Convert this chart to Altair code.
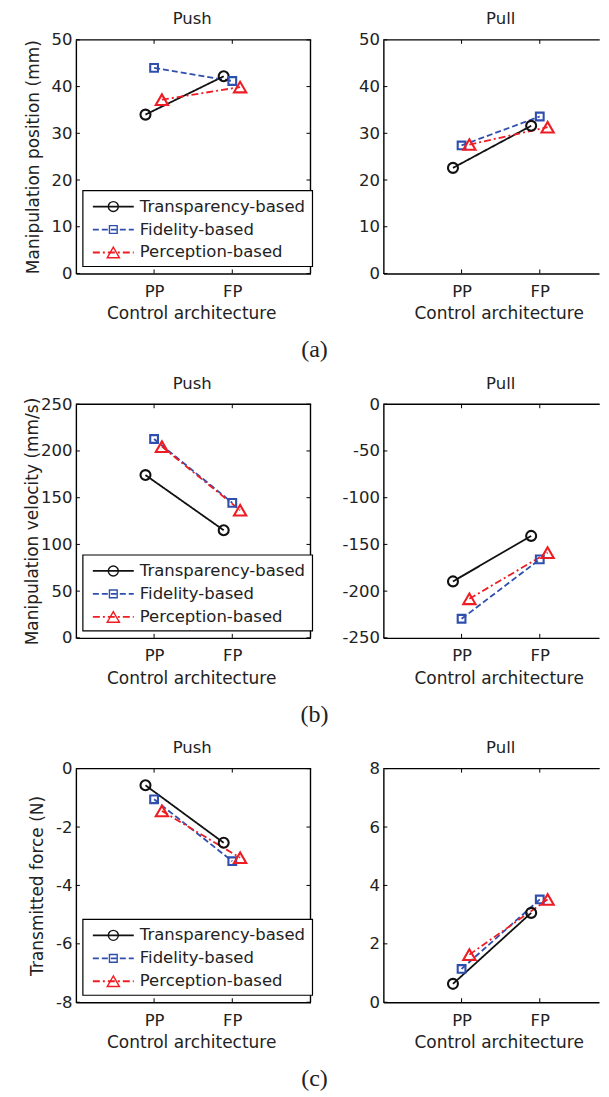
import altair as alt
import pandas as pd

# ---------------- data ----------------
series = ["Transparency-based", "Fidelity-based", "Perception-based"]
archs = ["PP", "FP"]
directions = ["Push", "Pull"]
y_titles = ["Manipulation position (mm)", "Manipulation velocity (mm/s)", "Transmitted force (N)"]
captions = ["(a)", "(b)", "(c)"]

# manipulation position (mm), values at [PP, FP]
pos_push_transparency = [34.0, 42.2]
pos_push_fidelity = [44.0, 41.2]
pos_push_perception = [37.2, 39.9]
pos_pull_transparency = [22.6, 31.6]
pos_pull_fidelity = [27.4, 33.6]
pos_pull_perception = [27.6, 31.3]

# manipulation velocity (mm/s)
vel_push_transparency = [174.2, 115.2]
vel_push_fidelity = [212.8, 144.5]
vel_push_perception = [204.6, 136.6]
vel_pull_transparency = [-189.6, -140.9]
vel_pull_fidelity = [-229.6, -166.0]
vel_pull_perception = [-208.2, -158.8]

# transmitted force (N)
force_push_transparency = [-0.57, -2.54]
force_push_fidelity = [-1.05, -3.17]
force_push_perception = [-1.45, -3.05]
force_pull_transparency = [0.63, 3.06]
force_pull_fidelity = [1.14, 3.52]
force_pull_perception = [1.63, 3.52]

# y tick labels
pos_ticks_push = [0, 10, 20, 30, 40, 50]
pos_ticks_pull = [0, 10, 20, 30, 40, 50]
vel_ticks_push = [0, 50, 100, 150, 200, 250]
vel_ticks_pull = [-250, -200, -150, -100, -50, 0]
force_ticks_push = [-8, -6, -4, -2, 0]
force_ticks_pull = [0, 2, 4, 6, 8]

# ---------------- style ----------------
FONT = "DejaVu Sans"
TXT = "#222222"
colors = ["#111111", "#2f4fae", "#ee1d23"]
dashes = [[1, 0], [6, 3], [7, 3, 2, 3]]
shapes = ["circle", "square", "triangle-up"]
sizes = [100, 60, 150]
legend_sizes = [65, 40, 95]
x_shift = {"Transparency-based": -0.11, "Fidelity-based": 0.0, "Perception-based": 0.1}
y_title_x = [-42, -43, -38]

W_L, W_R, H = 235, 216, 234
PX_PER_UNIT = W_L / 3.0
TICK = 4

color_enc = alt.Color("series:N", scale=alt.Scale(domain=series, range=colors), legend=None)
dash_enc = alt.StrokeDash("series:N", scale=alt.Scale(domain=series, range=dashes), legend=None)
shape_enc = alt.Shape("series:N", scale=alt.Scale(domain=series, range=shapes), legend=None)
size_enc = alt.Size("series:N", scale=alt.Scale(type="ordinal", domain=series, range=sizes),
                    legend=None)
leg_size_enc = alt.Size("series:N", scale=alt.Scale(type="ordinal", domain=series, range=legend_sizes),
                        legend=None)


def panel(vals, ticks, direction, ytitle, is_left, caption, title_x):
    rows = []
    for s, v in zip(series, vals):
        for i, a in enumerate(archs):
            rows.append({"series": s, "arch": a, "pos": i + 1 + x_shift[s], "value": v[i]})
    df = pd.DataFrame(rows)
    W = W_L if is_left else W_R
    xscale = alt.Scale(domain=[0, W / PX_PER_UNIT], nice=False, zero=False)
    yscale = alt.Scale(domain=[min(ticks), max(ticks)], nice=False, zero=False)

    xaxis = alt.Axis(values=[1, 2], labelExpr="datum.value == 1 ? 'PP' : 'FP'",
                     title="Control architecture", titleX=115.5, labelPadding=10,
                     titlePadding=6, labelFlush=False)
    if is_left:
        yaxis = alt.Axis(values=ticks, labelExpr="'' + datum.value", labelPadding=4,
                         title=ytitle, titleX=title_x, titleY=H / 2, titleBaseline="middle",
                         labelFlush=False)
    else:
        yaxis = alt.Axis(values=ticks, labelExpr="'' + datum.value", labelPadding=4,
                         title=None, labelFlush=False)

    x = alt.X("pos:Q", scale=xscale, axis=xaxis)
    y = alt.Y("value:Q", scale=yscale, axis=yaxis)

    lines = alt.Chart(df).mark_line(strokeWidth=1.8).encode(
        x=x, y=y, color=color_enc, strokeDash=dash_enc, detail="series:N",
        order=alt.Order("arch:N", sort="descending"))
    points = alt.Chart(df).mark_point(filled=False, strokeWidth=2.1, opacity=1).encode(
        x=alt.X("pos:Q", scale=xscale), y=alt.Y("value:Q", scale=yscale),
        color=color_enc, shape=shape_enc, size=size_enc)

    ydf = pd.DataFrame({"value": ticks})
    xdf = pd.DataFrame({"pos": [1, 2]})
    tick_y_left = alt.Chart(ydf).mark_rule(color="black", strokeWidth=1).encode(
        y=alt.Y("value:Q", scale=yscale), x=alt.value(0), x2=alt.value(TICK))
    tick_x_bottom = alt.Chart(xdf).mark_rule(color="black", strokeWidth=1).encode(
        x=alt.X("pos:Q", scale=xscale), y=alt.value(H), y2=alt.value(H - TICK))
    tick_x_top = alt.Chart(xdf).mark_rule(color="black", strokeWidth=1).encode(
        x=alt.X("pos:Q", scale=xscale), y=alt.value(0), y2=alt.value(TICK))
    one = pd.DataFrame({"k": [0]})
    top_border = alt.Chart(one).mark_rule(color="black", strokeWidth=1.4).encode(
        x=alt.value(0), x2=alt.value(W + 0.7), y=alt.value(0))

    layers = [lines, points, tick_y_left, tick_x_bottom, tick_x_top, top_border]
    if is_left:
        tick_y_right = alt.Chart(ydf).mark_rule(color="black", strokeWidth=1).encode(
            y=alt.Y("value:Q", scale=yscale), x=alt.value(W - TICK), x2=alt.value(W))
        right_border = alt.Chart(one).mark_rule(color="black", strokeWidth=1.4).encode(
            x=alt.value(W), y=alt.value(0), y2=alt.value(H))
        layers += [tick_y_right, right_border]
    main = alt.layer(*layers)

    if not is_left:
        return main.properties(
            width=W, height=H,
            title=alt.TitleParams(direction, frame="group", anchor="middle", dx=9.5,
                                  baseline="alphabetic", offset=-9))

    # legend drawn inside the left panel
    leg = pd.DataFrame({"series": series})
    ly = alt.Y("series:N", scale=alt.Scale(type="point", domain=series, range=[167, 213], padding=0),
               axis=None)
    box = alt.Chart(one).mark_rect(fill="white", stroke="black", strokeWidth=1.2).encode(
        x=alt.value(7), x2=alt.value(237), y=alt.value(151), y2=alt.value(227))
    leg_lines = alt.Chart(leg).mark_rule(strokeWidth=1.8).encode(
        x=alt.value(17), x2=alt.value(58), y=ly, color=color_enc, strokeDash=dash_enc)
    leg_pts = alt.Chart(leg).mark_point(filled=False, strokeWidth=1.4, opacity=1).encode(
        x=alt.value(37.5), y=ly, color=color_enc, shape=shape_enc, size=leg_size_enc)
    leg_text = alt.Chart(leg).mark_text(align="left", baseline="middle", font=FONT,
                                        fontSize=16.5, color=TXT).encode(
        x=alt.value(64), y=ly, text="series:N")
    cap = alt.Chart(pd.DataFrame({"caption": [caption]})).mark_text(
        font="Liberation Serif", fontSize=24, color=TXT, align="center", baseline="middle").encode(
        x=alt.value(239), y=alt.value(311), text="caption:N")
    legend_layer = alt.layer(box, leg_lines, leg_pts, leg_text, cap)

    return alt.layer(main, legend_layer).resolve_scale(y="independent").properties(
        width=W, height=H,
        title=alt.TitleParams(direction, frame="group", anchor="middle", dx=-1,
                              baseline="alphabetic", offset=-9))


all_vals = [
    ([pos_push_transparency, pos_push_fidelity, pos_push_perception], pos_ticks_push,
     [pos_pull_transparency, pos_pull_fidelity, pos_pull_perception], pos_ticks_pull),
    ([vel_push_transparency, vel_push_fidelity, vel_push_perception], vel_ticks_push,
     [vel_pull_transparency, vel_pull_fidelity, vel_pull_perception], vel_ticks_pull),
    ([force_push_transparency, force_push_fidelity, force_push_perception], force_ticks_push,
     [force_pull_transparency, force_pull_fidelity, force_pull_perception], force_ticks_pull),
]

panels = []
for r, (pv, pt, lv, lt) in enumerate(all_vals):
    panels.append(panel(pv, pt, directions[0], y_titles[r], True, captions[r], y_title_x[r]))
    panels.append(panel(lv, lt, directions[1], y_titles[r], False, captions[r], y_title_x[r]))

chart = alt.concat(*panels, columns=2, spacing={"row": 131, "column": 73}, bounds="flush").properties(
    padding={"left": 15, "top": 2, "right": 0, "bottom": 0}
).configure(font=FONT).configure_view(stroke=None).configure_axis(
    domainColor="black", domainWidth=1.4, ticks=False, grid=False,
    labelFont=FONT, labelFontSize=16.5, labelColor=TXT,
    titleFont=FONT, titleFontSize=17, titleFontWeight="normal", titleColor=TXT,
).configure_title(font=FONT, fontSize=16.5, fontWeight="normal", color=TXT)

chart.save("out.html", embed_options={"renderer": "svg", "actions": False})
